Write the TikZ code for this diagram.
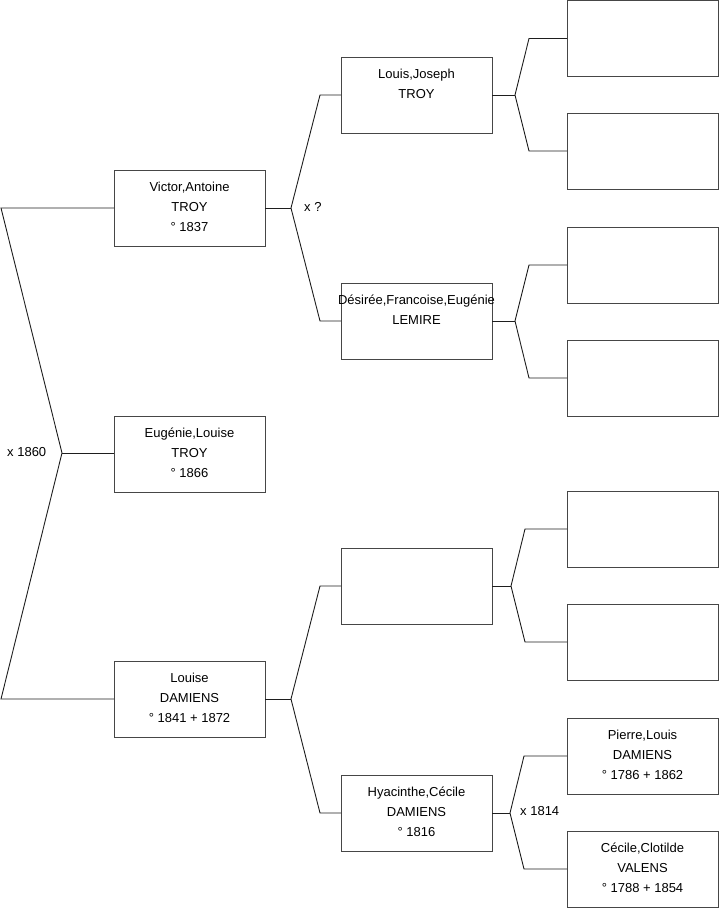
\documentclass[tikz,border=0pt]{standalone}
\usepackage{fontspec}
\setmainfont{Liberation Sans}
\definecolor{boxgray}{RGB}{70,70,70}
\definecolor{linegray}{RGB}{30,30,30}
\begin{document}
\begin{tikzpicture}[x=1pt,y=-1pt,
  person/.style={draw=boxgray, line width=1pt, minimum width=151pt, minimum height=76pt, inner sep=0pt, outer sep=0pt},
  names/.style={anchor=north, yshift=-12pt, inner sep=0pt, align=center, font=\fontsize{13}{20}\selectfont},
  lnk/.style={draw=linegray, line width=0.9pt},
  marriage/.style={anchor=west, inner sep=0pt, font=\fontsize{13}{15}\selectfont}]
\useasboundingbox (0,0) rectangle (719,908);

% generation 1
\node[person] (vic) at (189.5,208) {};
\node[person] (eug) at (189.5,454) {};
\node[person] (lou) at (189.5,699) {};
% generation 2
\node[person] (lj) at (416.5,95) {};
\node[person] (de) at (416.5,321) {};
\node[person] (em) at (416.5,586) {};
\node[person] (hy) at (416.5,813) {};
% generation 3
\node[person] (r1) at (642.5,38.5) {};
\node[person] (r2) at (642.5,151) {};
\node[person] (r3) at (642.5,265) {};
\node[person] (r4) at (642.5,378) {};
\node[person] (r5) at (642.5,529) {};
\node[person] (r6) at (642.5,642) {};
\node[person] (pl) at (642.5,756) {};
\node[person] (cc) at (642.5,869) {};

% texts
\node[names] (vict) at (vic.north) {Victor,Antoine\\TROY\\° 1837};
\node[names] (eugt) at (eug.north) {Eugénie,Louise\\TROY\\° 1866};
\node[names] (lout) at (lou.north) {Louise\\DAMIENS\\° 1841 + 1872};
\node[names] (ljt) at (lj.north) {Louis,Joseph\\TROY};
\node[names] (det) at (de.north) {Désirée,Francoise,Eugénie\\LEMIRE};
\node[names] (hyt) at (hy.north) {Hyacinthe,Cécile\\DAMIENS\\° 1816};
\node[names] (plt) at (pl.north) {Pierre,Louis\\DAMIENS\\° 1786 + 1862};
\node[names] (cct) at (cc.north) {Cécile,Clotilde\\VALENS\\° 1788 + 1854};

% root bracket
\coordinate (ja) at (62,453);
\coordinate (tl) at (1,208);
\coordinate (bl) at (1,699);
\draw[lnk] (vic.west) -- (tl) -- (ja) -- (bl) -- (lou.west);
\draw[lnk] (ja) -- (ja -| eug.west);
\node[marriage] (m1) at (7,452) {x 1860};

% Victor's parents
\coordinate (jb) at (291,208);
\draw[lnk] (vic.east) -- (jb);
\draw[lnk] (lj.west) -- ([xshift=-21pt]lj.west) -- (jb) -- ([xshift=-21pt]de.west) -- (de.west);
\node[marriage] (m2) at (304,207) {x ?};

% Louise's parents
\coordinate (jc) at (291,699);
\draw[lnk] (lou.east) -- (jc);
\draw[lnk] (em.west) -- ([xshift=-21pt]em.west) -- (jc) -- ([xshift=-21pt]hy.west) -- (hy.west);

% Louis Joseph's parents
\coordinate (jd) at (515,95);
\draw[lnk] (lj.east) -- (jd);
\draw[lnk] (r1.west) -- ([xshift=-38pt]r1.west) -- (jd) -- ([xshift=-38pt]r2.west) -- (r2.west);

% Desiree's parents
\coordinate (je) at (515,321);
\draw[lnk] (de.east) -- (je);
\draw[lnk] (r3.west) -- ([xshift=-38pt]r3.west) -- (je) -- ([xshift=-38pt]r4.west) -- (r4.west);

% unknown's parents
\coordinate (jf) at (511,586);
\draw[lnk] (em.east) -- (jf);
\draw[lnk] (r5.west) -- ([xshift=-42pt]r5.west) -- (jf) -- ([xshift=-42pt]r6.west) -- (r6.west);

% Hyacinthe's parents
\coordinate (jg) at (510,813);
\draw[lnk] (hy.east) -- (jg);
\draw[lnk] (pl.west) -- ([xshift=-43pt]pl.west) -- (jg) -- ([xshift=-43pt]cc.west) -- (cc.west);
\node[marriage] (m3) at (520,811) {x 1814};
\end{tikzpicture}
\end{document}
